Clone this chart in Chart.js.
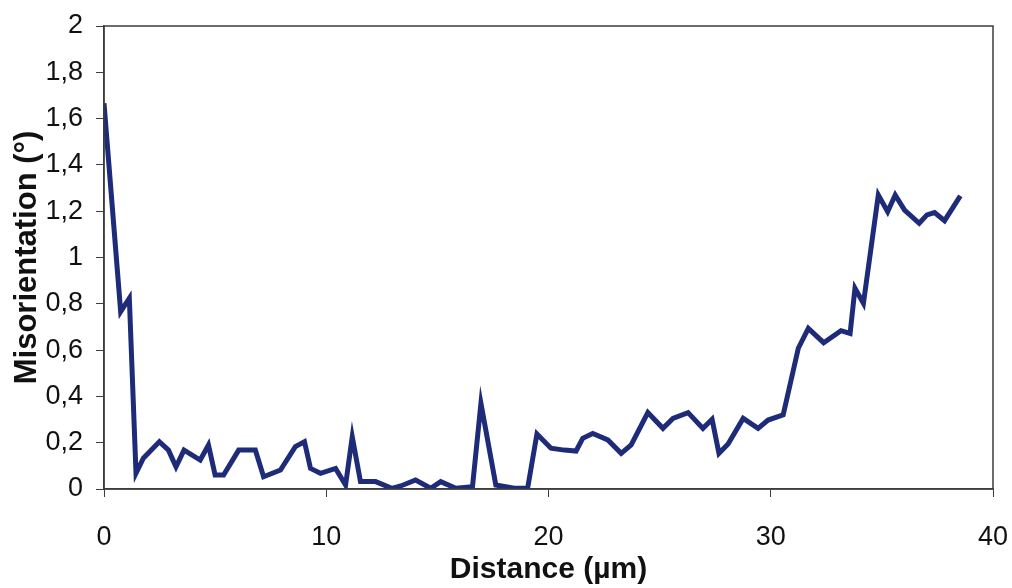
<!DOCTYPE html>
<html>
<head>
<meta charset="utf-8">
<script src="https://cdn.jsdelivr.net/npm/chart.js@4"></script>
<style>
    html, body { margin: 0; padding: 0; background: #ffffff; }
    #wrap { width: 1012px; height: 588px; }
</style>
</head>
<body>
<div id="wrap"><canvas id="profileChart" width="1012" height="588"></canvas></div>
<script>
// distance along the profile (µm) and misorientation (°)
const distance = [
    0, 0.75, 1.14, 1.44, 1.77, 2.49, 2.9, 3.24, 3.6, 4.33,
    4.7, 5.0, 5.38, 6.06, 6.81, 7.18, 7.94, 8.61, 9.02, 9.29,
    9.74, 10.42, 10.87, 11.17, 11.54, 12.22, 12.95, 13.35, 14.02, 14.7,
    15.15, 15.83, 16.58, 16.96, 17.63, 18.46, 19.06, 19.48, 20.11, 20.71,
    21.24, 21.54, 21.99, 22.67, 23.27, 23.72, 24.47, 25.15, 25.6, 26.28,
    26.95, 27.36, 27.67, 28.08, 28.76, 29.43, 29.88, 30.56, 31.24, 31.69,
    32.38, 33.16, 33.57, 33.79, 34.17, 34.84, 35.26, 35.6, 36.02, 36.68,
    37.03, 37.37, 37.82, 38.53
];
const misorientation = [
    1.666, 0.766, 0.824, 0.068, 0.133, 0.204, 0.168, 0.096, 0.168, 0.125,
    0.19, 0.06, 0.06, 0.168, 0.168, 0.053, 0.082, 0.183, 0.204, 0.089,
    0.068, 0.089, 0.017, 0.226, 0.032, 0.032, 0.003, 0.013, 0.039, 0.003,
    0.032, 0.003, 0.01, 0.37, 0.017, 0.003, 0.003, 0.238, 0.176, 0.168,
    0.164, 0.219, 0.24, 0.212, 0.154, 0.19, 0.33, 0.262, 0.305, 0.33,
    0.262, 0.301, 0.154, 0.194, 0.305, 0.262, 0.298, 0.32, 0.608, 0.694,
    0.632, 0.684, 0.672, 0.867, 0.802, 1.27, 1.198, 1.27, 1.205, 1.148,
    1.184, 1.194, 1.159, 1.266
];

const xTitle = "Distance (µm)";
const yTitle = "Misorientation (°)";

const points = distance.map((d, i) => ({ x: d, y: misorientation[i] }));

// box round the plot area (top and right sides)
const frame = {
    id: "frame",
    afterDraw(chart) {
        const { ctx, chartArea } = chart;
        ctx.save();
        ctx.strokeStyle = "#3c3c3c";
        ctx.lineWidth = 1.5;
        ctx.strokeRect(chartArea.left, chartArea.top, chartArea.right - chartArea.left, chartArea.bottom - chartArea.top);
        ctx.restore();
    }
};

const tickFont = { family: "'Liberation Sans', Arial, sans-serif", size: 27 };

new Chart(document.getElementById("profileChart"), {
    type: "line",
    data: {
        datasets: [{
            data: points,
            borderColor: "#1d2b78",
            borderWidth: 5,
            pointRadius: 0,
            tension: 0,
            fill: false
        }]
    },
    options: {
        responsive: false,
        animation: false,
        devicePixelRatio: 1,
        layout: { padding: { left: 0, top: 26, right: 19, bottom: 0 } },
        plugins: {
            legend: { display: false },
            tooltip: { enabled: false }
        },
        scales: {
            x: {
                type: "linear",
                min: 0,
                max: 40,
                afterFit: (scale) => {
                    scale.height = 99;
                    scale.paddingLeft = 0;
                    scale.paddingRight = 0;
                },
                ticks: {
                    stepSize: 10,
                    color: "#111111",
                    font: tickFont,
                    padding: 24,
                    maxRotation: 0
                },
                grid: {
                    drawOnChartArea: false,
                    tickLength: 8,
                    color: "#3c3c3c"
                },
                border: { color: "#3c3c3c", width: 1.5 },
                title: {
                    display: true,
                    text: xTitle,
                    color: "#111111",
                    font: { family: "'Liberation Sans', Arial, sans-serif", size: 30, weight: "bold" },
                    padding: { top: 0, bottom: 0 }
                }
            },
            y: {
                min: 0,
                max: 2,
                afterFit: (scale) => {
                    scale.width = 104;
                    scale.paddingTop = 0;
                    scale.paddingBottom = 0;
                },
                ticks: {
                    stepSize: 0.2,
                    color: "#111111",
                    font: tickFont,
                    padding: 13,
                    callback: (v) => String(Math.round(v * 10) / 10).replace(".", ",")
                },
                grid: {
                    drawOnChartArea: false,
                    tickLength: 8,
                    color: "#3c3c3c"
                },
                border: { color: "#3c3c3c", width: 1.5 },
                title: {
                    display: true,
                    text: yTitle,
                    color: "#111111",
                    font: { family: "'Liberation Sans', Arial, sans-serif", size: 31, weight: "bold" },
                    padding: { top: 9, bottom: 0 }
                }
            }
        }
    },
    plugins: [frame]
});
</script>
</body>
</html>
